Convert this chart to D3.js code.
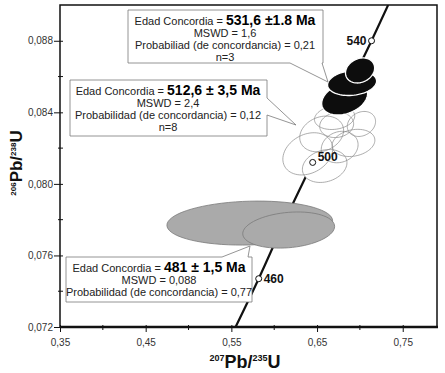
<!DOCTYPE html>
<html>
<head>
<meta charset="utf-8">
<script src="https://cdn.jsdelivr.net/npm/d3@7"></script>
<style>
  body { margin: 0; background: #fff; }
  svg { display: block; font-family: "Liberation Sans", Arial, sans-serif; }
</style>
</head>
<body>
<div id="chart"></div>
<script>
// axis ticks
const xTicks = [0.35, 0.45, 0.55, 0.65, 0.75];
const xMinor = [0.40, 0.50, 0.60, 0.70];
const yTicks = [0.072, 0.076, 0.080, 0.084, 0.088];
const yMinor = [0.074, 0.078, 0.082, 0.086];

// concordia curve (207Pb/235U, 206Pb/238U)
const concordia = [
  [0.5549, 0.0720], [0.5819, 0.0747], [0.6130, 0.0780],
  [0.6449, 0.0812], [0.6790, 0.0846], [0.7136, 0.0880], [0.7330, 0.0900]
];
// age markers on concordia
const markerAges = [460, 500, 540];
const markerX = [0.5819, 0.6449, 0.7136];
const markerY = [0.0747, 0.0812, 0.0880];

// error ellipses: cx, cy, sx, sy, rho
const grayEllipses = [
  [0.5715, 0.07781, 0.0967, 0.00123, 0.10],
  [0.6169, 0.07742, 0.0536, 0.00101, 0.20]
];
const whiteEllipses = [
  [0.6392, 0.08168, 0.0291, 0.00118, 0.25],
  [0.6554, 0.08279, 0.0256, 0.00100, 0.2],
  [0.6589, 0.08100, 0.0260, 0.00092, 0.2],
  [0.6764, 0.08206, 0.0215, 0.00088, 0.15],
  [0.6925, 0.08229, 0.0250, 0.00076, 0.2],
  [0.6705, 0.08370, 0.0235, 0.00066, 0.15],
  [0.6729, 0.08329, 0.0198, 0.00070, 0.1],
  [0.7018, 0.08335, 0.0165, 0.00070, 0.2]
];
const blackEllipses = [
  [0.6822, 0.08477, 0.0268, 0.00092, 0.3],
  [0.6909, 0.08564, 0.0286, 0.00070, 0.15],
  [0.7002, 0.08634, 0.0170, 0.00070, 0.2]
];

// callout texts
const ages = ['531,6 ±1.8 Ma', '512,6 ± 3,5 Ma', '481 ± 1,5 Ma'];
const mswd = ['MSWD = 1,6', 'MSWD = 2,4', 'MSWD = 0,088'];
const prob = ['Probabiliad (de concordancia) = 0,21',
              'Probabilidad (de concordancia) = 0,12',
              'Probabilidad (de concordancia) = 0,77'];
const nCount = ['n=3', 'n=8', null];

const width = 445, height = 373;
const plot = { left: 60, right: 437, top: 5, bottom: 327 };

const x = d3.scaleLinear().domain([0.35, 0.79]).range([plot.left, plot.right]);
const y = d3.scaleLinear().domain([0.072, 0.090]).range([plot.bottom, plot.top]);

const svg = d3.select('#chart').append('svg')
  .attr('width', width).attr('height', height);

svg.append('defs').append('clipPath').attr('id', 'clip')
  .append('rect')
  .attr('x', plot.left).attr('y', plot.top)
  .attr('width', plot.right - plot.left).attr('height', plot.bottom - plot.top);

const g = svg.append('g').attr('clip-path', 'url(#clip)');

function ellipsePath(e) {
  const [cx, cy, sx, sy, rho] = e;
  const pts = d3.range(0, 73).map(i => {
    const t = i / 72 * 2 * Math.PI;
    return [x(cx + sx * Math.cos(t)),
            y(cy + sy * (rho * Math.cos(t) + Math.sqrt(1 - rho * rho) * Math.sin(t)))];
  });
  return d3.line()(pts) + 'Z';
}

// concordia line
g.append('path')
  .datum(concordia)
  .attr('d', d3.line().x(d => x(d[0])).y(d => y(d[1])).curve(d3.curveMonotoneX))
  .attr('fill', 'none').attr('stroke', '#111').attr('stroke-width', 2.2);

// gray ellipses (481 Ma)
g.append('g').selectAll('path').data(grayEllipses).join('path')
  .attr('d', ellipsePath)
  .attr('fill', '#aaaaaa').attr('stroke', '#7a7a7a').attr('stroke-width', 0.8);

// white ellipses (512.6 Ma): fills first, then outlines
g.append('g').selectAll('path').data(whiteEllipses).join('path')
  .attr('d', ellipsePath).attr('fill', '#fff');
g.append('g').selectAll('path').data(whiteEllipses).join('path')
  .attr('d', ellipsePath)
  .attr('fill', 'none').attr('stroke', '#8a8a8a').attr('stroke-width', 0.7);

// black ellipses (531.6 Ma)
g.append('g').selectAll('path').data(blackEllipses).join('path')
  .attr('d', ellipsePath)
  .attr('fill', '#0d0d0d').attr('stroke', '#fff').attr('stroke-width', 1.3);

// age markers
const markers = markerAges.map((a, i) => ({ age: a, x: markerX[i], y: markerY[i] }));
g.append('g').selectAll('circle').data(markers).join('circle')
  .attr('cx', d => x(d.x)).attr('cy', d => y(d.y)).attr('r', 3)
  .attr('fill', '#fff').attr('stroke', '#111').attr('stroke-width', 1);

const labelOffset = { 460: [5, 4, 'start'], 500: [5, -1, 'start'], 540: [-5, 4, 'end'] };
g.append('g').selectAll('text').data(markers).join('text')
  .attr('x', d => x(d.x) + labelOffset[d.age][0])
  .attr('y', d => y(d.y) + labelOffset[d.age][1])
  .attr('text-anchor', d => labelOffset[d.age][2])
  .attr('font-size', 12).attr('font-weight', 'bold').attr('fill', '#111')
  .text(d => d.age);

// callouts
const callouts = [
  { path: 'M128,10H323V63H322L328,82L290,63H128Z', cx: 225, top: 10 },
  { path: 'M70,80H267V98L296,125L267,115V136H70Z', cx: 168, top: 80 },
  { path: 'M66,257H222L250,246L248,257H252V302H66Z', cx: 159, top: 257 }
];
callouts.forEach((c, i) => {
  const cg = svg.append('g');
  cg.append('path').attr('d', c.path)
    .attr('fill', '#fff').attr('stroke', '#7a7a7a').attr('stroke-width', 0.8);
  const t = cg.append('text').attr('x', c.cx).attr('y', c.top + 15)
    .attr('text-anchor', 'middle').attr('fill', '#222');
  t.append('tspan').attr('font-size', 11).text('Edad Concordia = ');
  t.append('tspan').attr('font-size', 14).attr('font-weight', 'bold').attr('fill', '#000').text(ages[i]);
  const lines = [mswd[i], prob[i], nCount[i]].filter(Boolean);
  lines.forEach((l, j) => {
    cg.append('text').attr('x', c.cx).attr('y', c.top + 27 + j * 12)
      .attr('text-anchor', 'middle').attr('font-size', 11).attr('fill', '#222')
      .text(l);
  });
});

// axes
const xAxis = svg.append('g').attr('transform', `translate(0,${plot.bottom})`);
xAxis.call(d3.axisBottom(x).tickValues(xTicks).tickSize(5).tickFormat(d => d3.format('.2f')(d).replace('.', ',')));
xAxis.selectAll('.tick line').attr('y1', -2).attr('stroke', '#111');
xAxis.selectAll('.tick text').attr('font-size', 10).attr('fill', '#333')
  .attr('font-family', '"Liberation Sans", Arial, sans-serif').attr('dy', '1.05em');
xAxis.select('.domain').remove();
xAxis.append('g').selectAll('line').data(xMinor).join('line')
  .attr('x1', d => x(d)).attr('x2', d => x(d)).attr('y1', -2).attr('y2', 3)
  .attr('stroke', '#111');

const yAxis = svg.append('g').attr('transform', `translate(${plot.left},0)`);
yAxis.call(d3.axisLeft(y).tickValues(yTicks).tickSize(6).tickFormat(d => d3.format('.3f')(d).replace('.', ',')));
yAxis.selectAll('.tick line').attr('x1', 3).attr('stroke', '#111');
yAxis.selectAll('.tick text').attr('font-size', 10).attr('fill', '#333')
  .attr('font-family', '"Liberation Sans", Arial, sans-serif').attr('x', -7);
yAxis.select('.domain').remove();
yAxis.append('g').selectAll('line').data(yMinor).join('line')
  .attr('y1', d => y(d)).attr('y2', d => y(d)).attr('x1', -2).attr('x2', 3)
  .attr('stroke', '#111');

// frame
svg.append('line').attr('x1', plot.left).attr('x2', plot.right + 1)
  .attr('y1', plot.bottom).attr('y2', plot.bottom).attr('stroke', '#111').attr('stroke-width', 2.5);
svg.append('path')
  .attr('d', `M${plot.left},${plot.bottom}V${plot.top}H${plot.right}V${plot.bottom}`)
  .attr('fill', 'none').attr('stroke', '#111').attr('stroke-width', 1.5);

// axis titles
const xt = svg.append('text').attr('x', 245).attr('y', 368)
  .attr('text-anchor', 'middle').attr('font-weight', 'bold').attr('fill', '#111');
xt.append('tspan').attr('font-size', 9).attr('dy', -7).text('207');
xt.append('tspan').attr('font-size', 18).attr('dy', 7).text('Pb/');
xt.append('tspan').attr('font-size', 9).attr('dy', -7).text('235');
xt.append('tspan').attr('font-size', 18).attr('dy', 7).text('U');

const yt = svg.append('text').attr('transform', 'translate(22,163) rotate(-90)')
  .attr('text-anchor', 'middle').attr('font-weight', 'bold').attr('fill', '#111');
yt.append('tspan').attr('font-size', 8).attr('dy', -6).text('206');
yt.append('tspan').attr('font-size', 17).attr('dy', 6).text('Pb/');
yt.append('tspan').attr('font-size', 8).attr('dy', -6).text('238');
yt.append('tspan').attr('font-size', 17).attr('dy', 6).text('U');
</script>
</body>
</html>
